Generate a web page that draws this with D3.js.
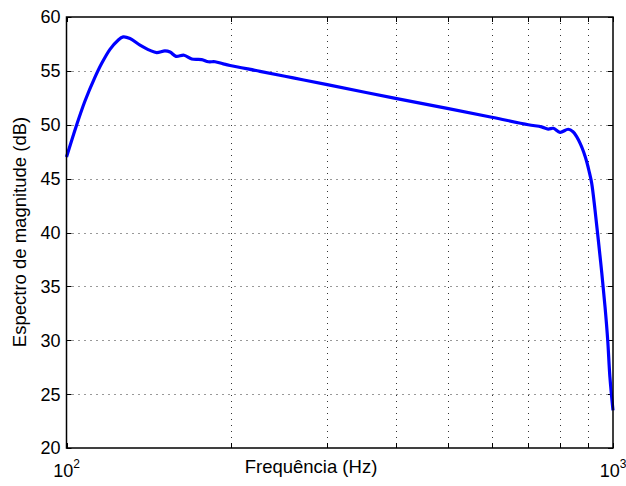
<!DOCTYPE html>
<html>
<head>
<meta charset="utf-8">
<script src="https://cdn.jsdelivr.net/npm/d3@7"></script>
<style>
  html, body { margin: 0; padding: 0; background: #fff; }
  text { font-family: "Liberation Sans", Arial, Helvetica, sans-serif; fill: #000; }
</style>
</head>
<body>
<svg id="chart" width="626" height="486"></svg>
<script>
// Data (frequency in Hz, magnitude in dB)
const freq = [100, 104.4, 108.1, 112.5, 116.0, 120.1, 124.0, 127.0, 130.7, 136.3, 142.2, 146.2,
  151.4, 154.7, 158.6, 164.1, 169.5, 176.7, 181.8, 187.0, 193.6, 199.2, 226, 260, 300, 400,
  500, 600, 700, 740, 761, 778, 800, 828, 845, 858, 872, 884, 896, 905, 914, 927, 940, 954,
  967, 978, 987, 1000];
const magnitude = [47.0, 50.0, 52.2, 54.3, 55.7, 57.0, 57.8, 58.15, 58.0, 57.4, 56.9, 56.7,
  56.85, 56.75, 56.35, 56.45, 56.1, 56.05, 55.85, 55.85, 55.65, 55.5, 54.96, 54.35, 53.72, 52.45,
  51.5, 50.7, 50.0, 49.8, 49.6, 49.67, 49.3, 49.58, 49.35, 48.9, 48.2, 47.45, 46.5, 45.6, 44.6,
  42.1, 39.3, 36.2, 33.1, 30.0, 26.6, 23.5];
const yTicks = [20, 25, 30, 35, 40, 45, 50, 55, 60];
const xMinor = [200, 300, 400, 500, 600, 700, 800, 900];
const xMajor = [100, 1000];
const xMajorLabels = [["10", "2"], ["10", "3"]];
const xLabel = "Frequência (Hz)";
const yLabel = "Espectro de magnitude (dB)";

const L = 66.5, R = 613, T = 17, B = 448;
const svg = d3.select("#chart");
const x = d3.scaleLog().domain([100, 1000]).range([L, R]);
const y = d3.scaleLinear().domain([20, 60]).range([B, T]);

// grid
const grid = svg.append("g").attr("stroke", "#333").attr("stroke-width", 1)
  .attr("stroke-dasharray", "1,5").attr("fill", "none");
yTicks.filter(v => v > 20 && v < 60).forEach(v => {
  grid.append("line").attr("x1", L).attr("x2", R).attr("y1", Math.round(y(v)) + 0.5).attr("y2", Math.round(y(v)) + 0.5);
});
xMinor.forEach(v => {
  grid.append("line").attr("y1", T).attr("y2", B).attr("x1", Math.round(x(v)) + 0.5).attr("x2", Math.round(x(v)) + 0.5);
});

// ticks
const ticks = svg.append("g").attr("stroke", "#000").attr("stroke-width", 1);
const tl = 5;
yTicks.forEach(v => {
  const yy = Math.round(y(v)) + 0.5;
  ticks.append("line").attr("x1", L).attr("x2", L + tl).attr("y1", yy).attr("y2", yy);
  ticks.append("line").attr("x1", R).attr("x2", R - tl).attr("y1", yy).attr("y2", yy);
});
xMinor.concat(xMajor).forEach(v => {
  const xx = Math.round(x(v)) + 0.5;
  ticks.append("line").attr("x1", xx).attr("x2", xx).attr("y1", B).attr("y2", B - tl);
  ticks.append("line").attr("x1", xx).attr("x2", xx).attr("y1", T).attr("y2", T + tl);
});

// line
const line = d3.line().x(d => x(d[0])).y(d => y(d[1])).curve(d3.curveCatmullRom.alpha(0.5));
svg.append("path").datum(freq.map((f, i) => [f, magnitude[i]]))
  .attr("d", line).attr("fill", "none").attr("stroke", "#0000ff").attr("stroke-width", 3.2)
  .attr("stroke-linejoin", "round");

// box
svg.append("rect").attr("x", L).attr("y", T).attr("width", R - L).attr("height", B - T)
  .attr("fill", "none").attr("stroke", "#000").attr("stroke-width", 1.5);

// y tick labels
yTicks.forEach(v => {
  svg.append("text").attr("x", L - 6).attr("y", y(v)).attr("dy", "0.36em")
    .attr("text-anchor", "end").attr("font-size", 18).text(v);
});
// x tick labels
xMajor.forEach((v, i) => {
  const t = svg.append("text").attr("x", x(v)).attr("y", 477).attr("text-anchor", "middle").attr("font-size", 18);
  t.append("tspan").text(xMajorLabels[i][0]);
  t.append("tspan").attr("dy", -9).attr("font-size", 12).text(xMajorLabels[i][1]);
});

// axis labels
svg.append("text").attr("x", 311).attr("y", 473).attr("text-anchor", "middle")
  .attr("font-size", 18.5).text(xLabel);
svg.append("text").attr("transform", "translate(26," + 232 + ") rotate(-90)")
  .attr("text-anchor", "middle").attr("font-size", 18.5).text(yLabel);
</script>
</body>
</html>
